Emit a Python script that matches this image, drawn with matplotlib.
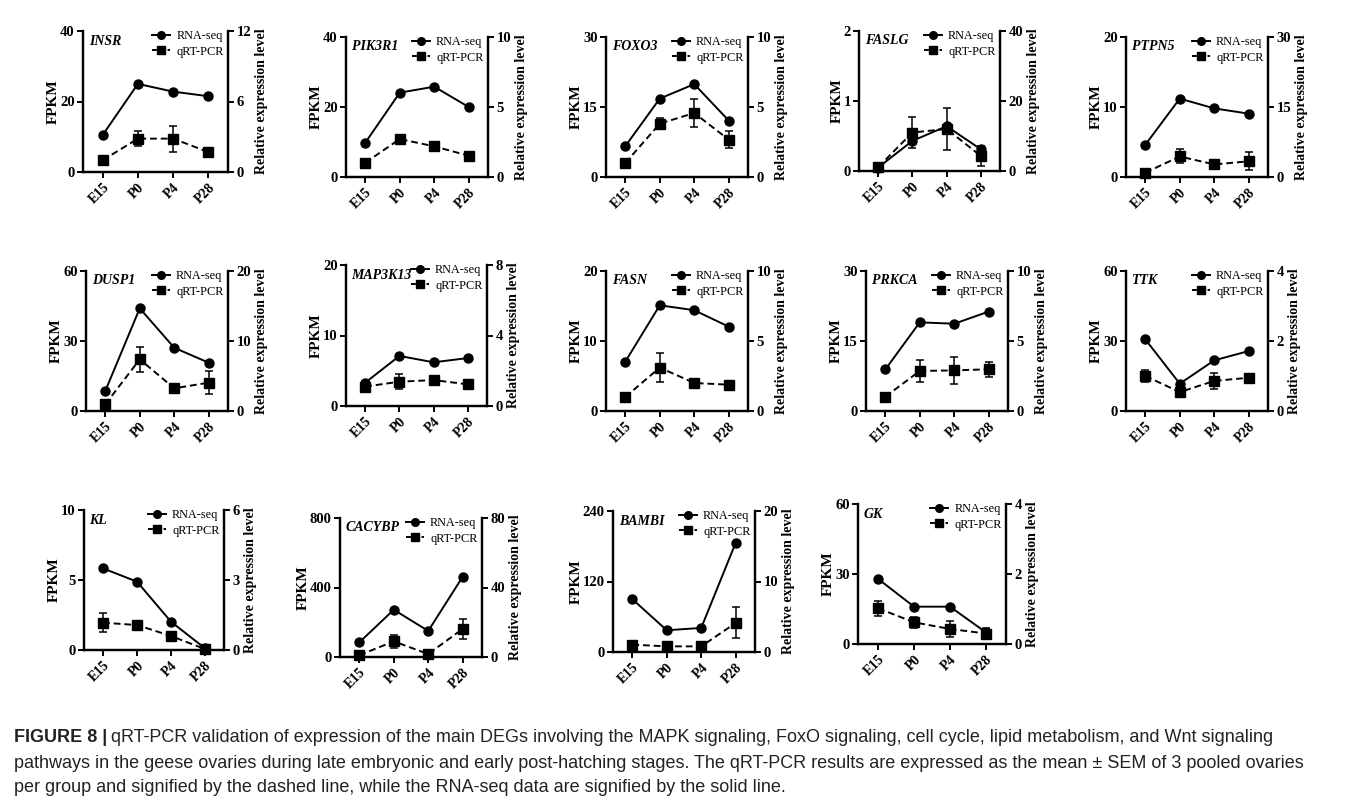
import matplotlib
matplotlib.use("Agg")
import matplotlib.pyplot as plt
from matplotlib.lines import Line2D

W, H = 1355, 806
DPI = 100

stages = ["E15", "P0", "P4", "P28"]

genes = ["INSR", "PIK3R1", "FOXO3", "FASLG", "PTPN5",
         "DUSP1", "MAP3K13", "FASN", "PRKCA", "TTK",
         "KL", "CACYBP", "BAMBI", "GK"]

# RNA-seq FPKM (solid line, left axis)
INSR_rna = [10.5, 25.0, 22.8, 21.5]
PIK3R1_rna = [9.8, 24.1, 25.8, 20.0]
FOXO3_rna = [6.6, 16.8, 19.9, 12.1]
FASLG_rna = [0.05, 0.43, 0.64, 0.31]
PTPN5_rna = [4.6, 11.2, 9.8, 9.05]
DUSP1_rna = [8.6, 44.0, 27.1, 20.7]
MAP3K13_rna = [3.3, 7.1, 6.2, 6.8]
FASN_rna = [7.05, 15.1, 14.4, 12.05]
PRKCA_rna = [8.9, 19.0, 18.7, 21.3]
TTK_rna = [30.7, 11.7, 21.7, 25.7]
KL_rna = [5.83, 4.88, 2.02, 0.12]
CACYBP_rna = [84, 272, 150, 462]
BAMBI_rna = [90, 37, 41, 186]
GK_rna = [27.9, 16.0, 16.0, 5.0]

# qRT-PCR relative expression (dashed line, right axis) and SEM
INSR_q = [1.0, 2.84, 2.84, 1.7]
INSR_e = [0.0, 0.64, 1.1, 0.12]
PIK3R1_q = [1.02, 2.71, 2.19, 1.52]
PIK3R1_e = [0.0, 0.27, 0.05, 0.05]
FOXO3_q = [1.0, 3.81, 4.57, 2.67]
FOXO3_e = [0.0, 0.4, 1.0, 0.6]
FASLG_q = [1.1, 11.0, 12.0, 4.3]
FASLG_e = [0.0, 4.5, 6.0, 2.8]
PTPN5_q = [0.93, 4.4, 2.7, 3.36]
PTPN5_e = [0.0, 1.5, 0.1, 1.9]
DUSP1_q = [0.95, 7.38, 3.24, 4.05]
DUSP1_e = [0.0, 1.75, 0.2, 1.67]
MAP3K13_q = [1.1, 1.38, 1.47, 1.23]
MAP3K13_e = [0.31, 0.43, 0.05, 0.05]
FASN_q = [1.0, 3.1, 2.0, 1.88]
FASN_e = [0.0, 1.02, 0.32, 0.2]
PRKCA_q = [1.02, 2.86, 2.9, 2.98]
PRKCA_e = [0.0, 0.79, 0.94, 0.52]
TTK_q = [1.0, 0.54, 0.86, 0.95]
TTK_e = [0.17, 0.06, 0.22, 0.02]
KL_q = [1.17, 1.07, 0.6, 0.04]
KL_e = [0.4, 0.03, 0.05, 0.02]
CACYBP_q = [1.0, 9.0, 1.7, 16.2]
CACYBP_e = [0.3, 3.8, 0.5, 5.6]
BAMBI_q = [1.04, 0.8, 0.8, 4.12]
BAMBI_e = [0.05, 0.05, 0.05, 2.2]
GK_q = [1.02, 0.62, 0.43, 0.30]
GK_e = [0.21, 0.16, 0.22, 0.17]

# axis tick labels (left FPKM, right relative expression)
left_ticks = [[0, 20, 40], [0, 20, 40], [0, 15, 30], [0, 1, 2], [0, 10, 20],
              [0, 30, 60], [0, 10, 20], [0, 10, 20], [0, 15, 30], [0, 30, 60],
              [0, 5, 10], [0, 400, 800], [0, 120, 240], [0, 30, 60]]
right_ticks = [[0, 6, 12], [0, 5, 10], [0, 5, 10], [0, 20, 40], [0, 15, 30],
               [0, 10, 20], [0, 4, 8], [0, 5, 10], [0, 5, 10], [0, 2, 4],
               [0, 3, 6], [0, 40, 80], [0, 10, 20], [0, 2, 4]]

rna_all = [INSR_rna, PIK3R1_rna, FOXO3_rna, FASLG_rna, PTPN5_rna, DUSP1_rna,
           MAP3K13_rna, FASN_rna, PRKCA_rna, TTK_rna, KL_rna, CACYBP_rna,
           BAMBI_rna, GK_rna]
q_all = [INSR_q, PIK3R1_q, FOXO3_q, FASLG_q, PTPN5_q, DUSP1_q, MAP3K13_q,
         FASN_q, PRKCA_q, TTK_q, KL_q, CACYBP_q, BAMBI_q, GK_q]
e_all = [INSR_e, PIK3R1_e, FOXO3_e, FASLG_e, PTPN5_e, DUSP1_e, MAP3K13_e,
         FASN_e, PRKCA_e, TTK_e, KL_e, CACYBP_e, BAMBI_e, GK_e]

# panel boxes in pixels: left, right, top, bottom
boxes = [(83, 228, 31, 172), (346, 488, 37, 177), (606, 748, 37, 177),
         (859, 1000, 31, 171), (1126, 1268, 37, 177),
         (86, 228, 271, 411), (346, 487, 265, 406), (606, 748, 271, 411),
         (866, 1008, 271, 411), (1126, 1268, 271, 411),
         (84, 224, 510, 650), (340, 482, 518, 657), (613, 755, 511, 652),
         (858, 1006, 504, 644)]

serif = "Liberation Serif"
plt.rcParams["font.family"] = serif

fig = plt.figure(figsize=(W / DPI, H / DPI), dpi=DPI)
fig.patch.set_facecolor("white")

xs = list(range(len(stages)))
spine_lw = 1.6
tick_fs = 10.5

for i, g in enumerate(genes):
    l, r, t, b = boxes[i]
    ax = fig.add_axes([l / W, 1 - b / H, (r - l) / W, (b - t) / H])
    ax2 = ax.twinx()
    lt = left_ticks[i]
    rt = right_ticks[i]
    ax.set_ylim(lt[0], lt[-1])
    ax2.set_ylim(rt[0], rt[-1])
    ax.set_yticks(lt)
    ax2.set_yticks(rt)
    ax.set_xlim(-0.56, 3.56)
    ax.set_xticks(xs)
    ax.set_xticklabels(stages, rotation=45, ha="right", rotation_mode="anchor",
                       fontweight="bold", fontsize=10)
    for a in (ax, ax2):
        a.spines["top"].set_visible(False)
        for s in ("left", "right", "bottom"):
            a.spines[s].set_linewidth(spine_lw)
        a.tick_params(direction="out", length=4.5, width=1.4, labelsize=tick_fs, pad=1.5)
        for lab in a.get_yticklabels():
            lab.set_fontweight("bold")
    ax.tick_params(axis="x", pad=2, labelsize=10)
    ax.set_ylabel("FPKM", fontweight="bold", fontsize=11, labelpad=0)
    ax2.set_ylabel("Relative expression level", fontweight="bold", fontsize=10,
                   rotation=90, labelpad=3)

    ax.plot(xs, rna_all[i], "-", color="black", lw=1.4, marker="o", ms=6.5,
            zorder=3, clip_on=False)
    ax2.errorbar(xs, q_all[i], yerr=e_all[i], fmt="s", ls=(0, (3.5, 2)),
                 color="black", lw=1.4, ms=7, capsize=3.2, elinewidth=1.1,
                 capthick=1.1, zorder=3, clip_on=False)

    ax.text(0.04, 0.975, g, transform=ax.transAxes, ha="left", va="top",
            fontsize=10, fontweight="bold", fontstyle="italic")

    h1 = Line2D([], [], color="black", lw=1.4, marker="o", ms=5.5)
    h2 = Line2D([], [], color="black", lw=1.4, ls=(0, (2.5, 1.5)), marker="s", ms=5.5)
    ax2.legend([h1, h2], ["RNA-seq", "qRT-PCR"], loc="upper right",
               bbox_to_anchor=(1.02, 1.06), frameon=False, fontsize=8.8,
               handlelength=1.45, handletextpad=0.5, labelspacing=0.3,
               borderaxespad=0.2)

# caption
cap_font = "Liberation Sans"
cap_fs = 13
cap_color = "#222222"
line1 = ("qRT-PCR validation of expression of the main DEGs involving the MAPK "
         "signaling, FoxO signaling, cell cycle, lipid metabolism, and Wnt signaling")
line2 = ("pathways in the geese ovaries during late embryonic and early post-hatching "
         "stages. The qRT-PCR results are expressed as the mean \u00b1 SEM of 3 pooled ovaries")
line3 = ("per group and signified by the dashed line, while the RNA-seq data are "
         "signified by the solid line.")

x0 = 14
y1 = 1 - 738 / H
bold = fig.text(x0 / W, y1, "FIGURE 8 |", fontfamily=cap_font, fontsize=cap_fs,
                fontweight="bold", va="center", ha="left", color=cap_color)
fig.canvas.draw()
ext = bold.get_window_extent(renderer=fig.canvas.get_renderer())
fig.text((ext.x1 + 4) / W, y1, line1, fontfamily=cap_font, fontsize=cap_fs,
         va="center", ha="left", color=cap_color)
fig.text(x0 / W, 1 - 763 / H, line2, fontfamily=cap_font, fontsize=cap_fs,
         va="center", ha="left", color=cap_color)
fig.text(x0 / W, 1 - 787 / H, line3, fontfamily=cap_font, fontsize=cap_fs,
         va="center", ha="left", color=cap_color)

fig.savefig("out.png", dpi=DPI, facecolor="white")
